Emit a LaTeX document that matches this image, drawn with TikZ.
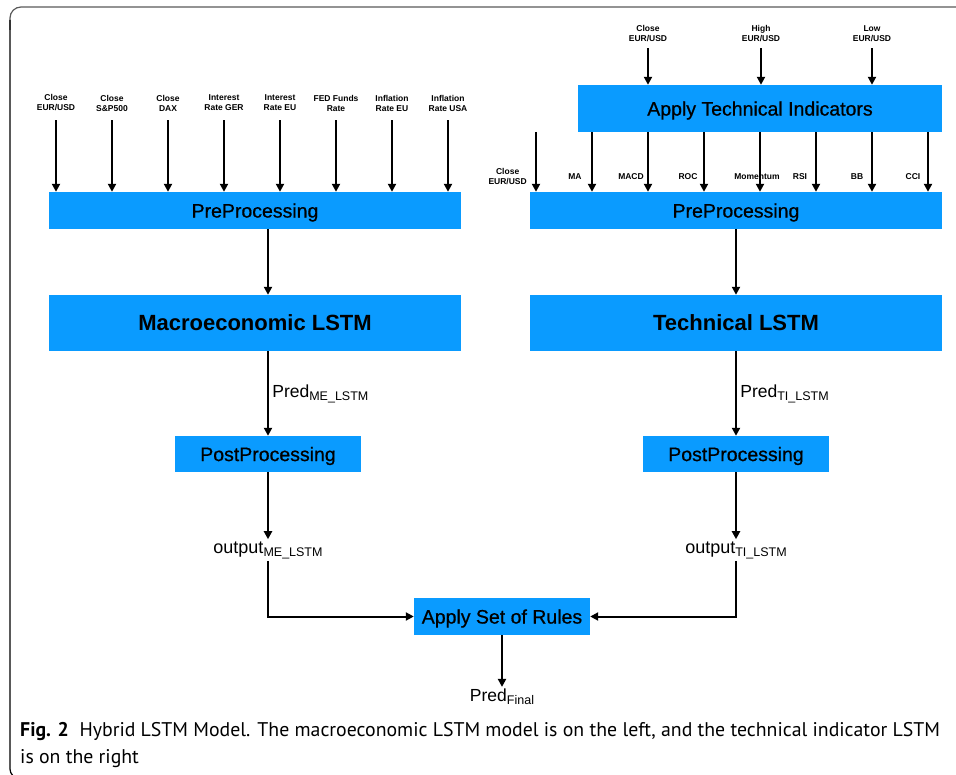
\documentclass[tikz,border=0pt]{standalone}
\usepackage{fontspec}
\setmainfont{Liberation Sans}
\newfontfamily\capfont{PT Sans}
\newfontfamily\medfont[FakeBold=0.7]{Liberation Sans}
\usepackage{xcolor}
\usetikzlibrary{arrows.meta, positioning}
\definecolor{boxblue}{RGB}{10,155,255}
\newcommand{\lowsub}[1]{{\fontsize{12.5}{12.5}\selectfont\raisebox{-3pt}{#1}}}
\tikzset{
  box/.style={rectangle, fill=boxblue, inner sep=0pt, text depth=0pt, font=\medfont\fontsize{19.5}{23}\selectfont},
  bigbox/.style={box, minimum width=412pt, font=\fontsize{22}{26}\selectfont\bfseries},
  inlbl/.style={font=\fontsize{8.5}{10}\selectfont\bfseries, align=center, inner sep=1pt},
  outlbl/.style={font=\fontsize{18}{20}\selectfont, inner sep=2pt},
  arrow/.style={-{Triangle[width=8pt,length=8pt]}, line width=2pt},
}

\begin{document}
\begin{tikzpicture}[x=1pt, y=-1pt]
    \useasboundingbox (0,0) rectangle (956,775);
    % frame
    \draw[line width=1.2pt, black!65, rounded corners=11pt] (957,7) -- (10,7) -- (10,30);
    \draw[line width=1.2pt, rounded corners=9pt] (10,20) -- (10,778) -- (20,778);

    % left branch: macroeconomic
    \node[box, minimum width=412pt, minimum height=37pt] (lpre) at (255,210.5) {PreProcessing};
    \node[bigbox, minimum height=56pt] (lstm) at (255,323) {Macroeconomic LSTM};
    \node[box, minimum width=186pt, minimum height=36pt] (lpost) at (268,454) {PostProcessing};
    \node[outlbl] (outme) at (268,550) {output\lowsub{ME\_LSTM}};

    \foreach \i/\t in {0/{Close\\EUR/USD}, 1/{Close\\S\&P500}, 2/{Close\\DAX}, 3/{Interest\\Rate GER},
                       4/{Interest\\Rate EU}, 5/{FED Funds\\Rate}, 6/{Inflation\\Rate EU}, 7/{Inflation\\Rate USA}} {
      \node[inlbl] (me\i) at ({56+56*\i},103) {\t};
      \draw[arrow] (me\i.south) ++(0,8) -- (me\i |- lpre.north);
    }

    \draw[arrow] (lpre.south -| lpost) -- (lstm.north -| lpost);
    \draw[arrow] (lstm.south -| lpost) -- (lpost.north)
      node[midway, right, font=\fontsize{17.5}{20}\selectfont] {Pred\lowsub{ME\_LSTM}};
    \draw[arrow] (lpost) -- (outme);

    % right branch: technical indicators
    \node[box, minimum width=364pt, minimum height=47pt] (ati) at (760,108.5) {Apply Technical Indicators};
    \node[box, minimum width=412pt, minimum height=37pt] (rpre) at (736,210.5) {PreProcessing};
    \node[bigbox, minimum height=56pt] (tlstm) at (736,323) {Technical LSTM};
    \node[box, minimum width=186pt, minimum height=36pt] (rpost) at (736,454) {PostProcessing};
    \node[outlbl] (outti) at (736,550) {output\lowsub{TI\_LSTM}};

    \foreach \x/\t [count=\i] in {648/{Close\\EUR/USD}, 761/{High\\EUR/USD}, 872/{Low\\EUR/USD}} {
      \node[inlbl] (px\i) at (\x,34) {\t};
      \draw[arrow] (px\i.south) ++(0,5) -- (px\i |- ati.north);
    }

    \node[inlbl, anchor=east] (ceur) at (528,177) {Close\\EUR/USD};
    \coordinate (cstart) at (536,132);
    \draw[arrow] (cstart) -- (cstart |- rpre.north);
    \foreach \t/\lx [count=\i] in {MA/575, MACD/631, ROC/688, Momentum/757, RSI/800, BB/857, CCI/913} {
      \coordinate (ti\i) at ({536+56*\i},0);
      \node[inlbl] (ind\i) at (\lx,177) {\t};
      \draw[arrow] (ati.south -| ti\i) -- (rpre.north -| ti\i);
    }

    \draw[arrow] (rpre) -- (tlstm.north);
    \draw[arrow] (tlstm) -- (rpost.north)
      node[midway, right, font=\fontsize{17.5}{20}\selectfont] {Pred\lowsub{TI\_LSTM}};
    \draw[arrow] (rpost) -- (outti);

    % combining rules
    \node[box, minimum width=176pt, minimum height=37pt] (rules) at (502,616.5) {Apply Set of Rules};
    \node[outlbl, font=\fontsize{17.5}{20}\selectfont] (predf) at (502,697) {Pred\lowsub{Final}};
    \draw[arrow] (outme) |- (rules);
    \draw[arrow] (outti) |- (rules);
    \draw[arrow] (rules) -- (predf);

    % caption
    \node[anchor=north west, align=left, inner sep=0pt, font=\capfont\fontsize{19.8}{27}\selectfont] (cap) at (20,722)
      {\textbf{Fig. 2}\ \ Hybrid LSTM Model. The macroeconomic LSTM model is on the left, and the technical indicator LSTM\\is on the right};
\end{tikzpicture}
\end{document}
